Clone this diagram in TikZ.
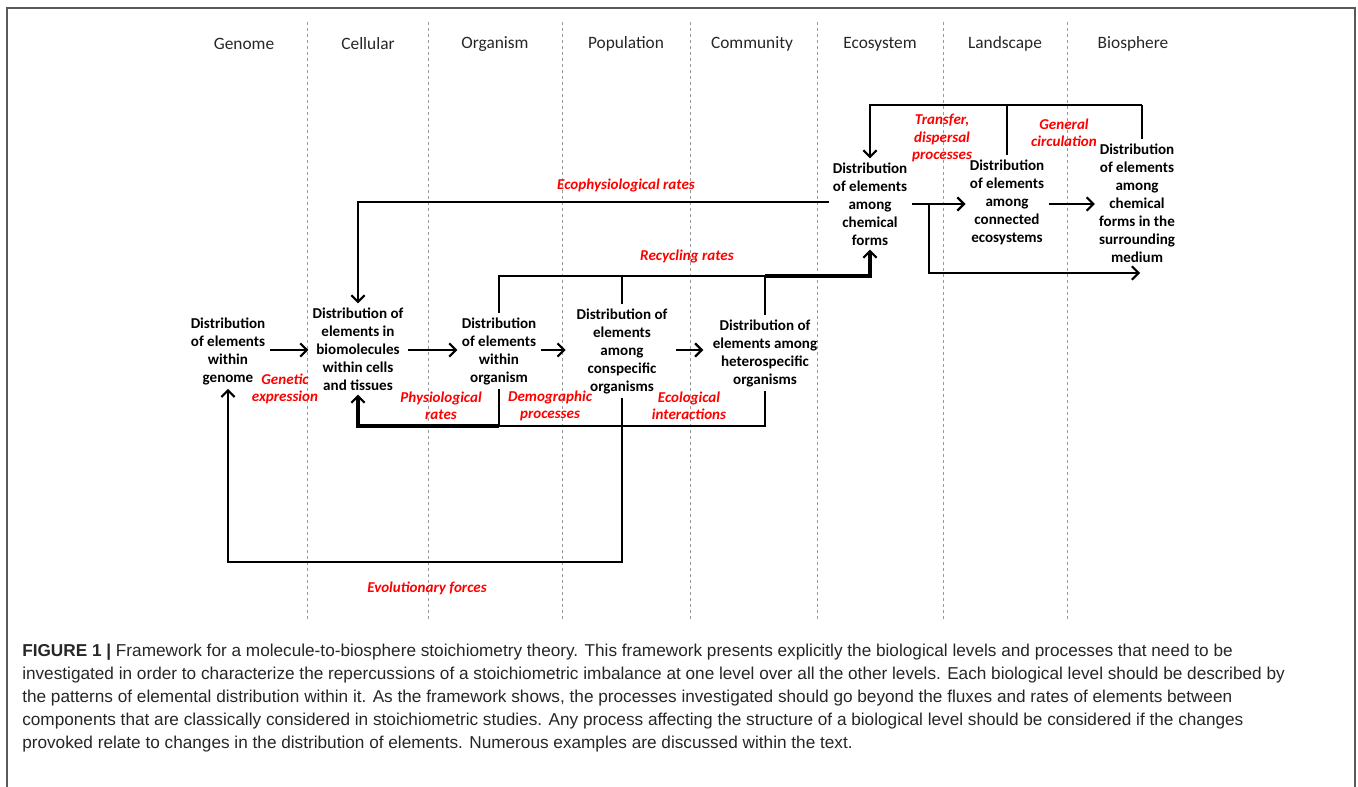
\documentclass[tikz,border=0pt]{standalone}
\usepackage{fontspec}
\setmainfont{Carlito}
\newfontfamily\capfont{Liberation Sans}
\usetikzlibrary{arrows.meta}
\begin{document}
\begin{tikzpicture}[x=0.75pt,y=-0.75pt,
  box/.style={align=center,font=\fontsize{11.3}{13.5}\selectfont\bfseries,inner sep=3pt,text=black},
  lab/.style={align=center,text=red,font=\fontsize{11.3}{13}\selectfont\bfseries\itshape,inner sep=0pt},
  hdr/.style={font=\fontsize{13}{15}\selectfont,inner sep=0pt,text=black!85},
  conn/.style={line width=1.6pt,black},
  thickconn/.style={line width=2.3pt},
  arr/.style={conn,-{Straight Barb[length=5pt,width=10pt,line width=1.6pt]}},
  sep/.style={black!40,line width=0.6pt,dash pattern=on 2.5pt off 2pt},
  capline/.style={anchor=base west,inner sep=0pt,font=\capfont\fontsize{12.9}{15}\selectfont,text=black!85}
]
\useasboundingbox (0,0) rectangle (1358,787);
% frame
\draw[black!65,line width=1.5pt] (7,787) -- (7,8) -- (1355,8) -- (1355,787);
% separators
\foreach \x in {307,428,562,690,817,943,1067} \draw[sep] (\x,22) -- (\x,620);
% headers
\node[hdr] (hGen) at (244,44) {Genome};
\node[hdr] (hCel) at (368,44) {Cellular};
\node[hdr] (hOrg) at (495,44) {Organism};
\node[hdr] (hPop) at (626,44) {Population};
\node[hdr] (hCom) at (752,44) {Community};
\node[hdr] (hEco) at (880,44) {Ecosystem};
\node[hdr] (hLan) at (1005,44) {Landscape};
\node[hdr] (hBio) at (1133,44) {Biosphere};
% nodes
\node[box] (n1) at (228,351) {Distribution\\of elements\\within\\genome};
\node[box] (n2) at (358,349) {Distribution of\\elements in\\biomolecules\\within cells\\and tissues};
\node[box] (n3) at (499,351) {Distribution\\of elements\\within\\organism};
\node[box] (n4) at (622,351) {Distribution of\\elements\\among\\conspecific\\organisms};
\node[box] (n5) at (765,353) {Distribution of\\elements among\\heterospecific\\organisms};
\node[box] (n6) at (870,204) {Distribution\\of elements\\among\\chemical\\forms};
\node[box] (n7) at (1007,202) {Distribution\\of elements\\among\\connected\\ecosystems};
\node[box] (n8) at (1137,203) {Distribution\\of elements\\among\\chemical\\forms in the\\surrounding\\medium};
% coordinates
\coordinate (ecoY) at (0,202);
\coordinate (recY) at (0,276);
\coordinate (botY) at (0,426);
\coordinate (evoY) at (0,562);
\coordinate (topY) at (0,105);
\coordinate (midY) at (0,350);
\coordinate (hiY) at (0,204);
\coordinate (br) at (929,204);
\coordinate (med) at (1140,273);
% horizontal chain
\draw[arr] (n1.east|-midY) -- (n2.west|-midY);
\draw[arr] (n2.east|-midY) -- (n3.west|-midY);
\draw[arr,shorten >=5pt] (n3.east|-midY) -- (n4.west|-midY);
\draw[arr,shorten >=4pt,shorten <=3pt] (n4.east|-midY) -- (n5.west|-midY);
\draw[arr] (n6.east|-hiY) -- (n7.west|-hiY);
\draw[arr] (n7.east|-hiY) -- (n8.west|-hiY);
\draw[arr] (br) |- (med);
% ecophysiological
\draw[arr] (n6.west|-ecoY) -| (n2.north);
% recycling
\draw[conn] (n3.north) -- (n3.north|-recY) -- (n5.north|-recY);
\draw[conn] (n4.north) -- (n4.north|-recY);
\draw[conn] (n5.north) -- (n5.north|-recY);
\draw[arr,thickconn] (n5.north|-recY) -| (n6.south);
% bottom bracket
\draw[conn] (n3.south) -- (n3.south|-botY) -- (n5.south|-botY) -- (n5.south);
\draw[conn] (n4.south) -- (n4.south|-botY);
\draw[arr,thickconn] (n3.south|-botY) -| (n2.south);
% evolutionary
\draw[arr] (n4.south) -- (n4.south|-evoY) -| (n1.south);
% top bracket
\draw[conn] (n7.north) -- (n7.north|-topY);
\draw[conn] ([xshift=4pt]n8.north) -- ([xshift=4pt]n8.north|-topY);
\draw[arr] ([xshift=4pt]n8.north|-topY) -| (n6.north);
% red labels
\node[lab] (lGen) at (285,389) {Genetic\\expression};
\node[lab] (lPhy) at (441,406) {Physiological\\rates};
\node[lab] (lDem) at (550,406) {Demographic\\processes};
\node[lab] (lEcoI) at (689,406) {Ecological\\interactions};
\node[lab] (lTra) at (942,138) {Transfer,\\dispersal\\processes};
\node[lab] (lGenC) at (1064,133) {General\\circulation};
\node[lab] (lEcoR) at (626,185) {Ecophysiological rates};
\node[lab] (lRec) at (687,256) {Recycling rates};
\node[lab] (lEvo) at (427,588) {Evolutionary forces};
% caption
\node[capline] (c1) at (22,656) {\textbf{FIGURE 1 |} Framework for a molecule-to-biosphere stoichiometry theory. This framework presents explicitly the biological levels and processes that need to be};
\node[capline] (c2) at (22,679) {investigated in order to characterize the repercussions of a stoichiometric imbalance at one level over all the other levels. Each biological level should be described by};
\node[capline] (c3) at (22,702) {the patterns of elemental distribution within it. As the framework shows, the processes investigated should go beyond the fluxes and rates of elements between};
\node[capline] (c4) at (22,725) {components that are classically considered in stoichiometric studies. Any process affecting the structure of a biological level should be considered if the changes};
\node[capline] (c5) at (22,748) {provoked relate to changes in the distribution of elements. Numerous examples are discussed within the text.};
\end{tikzpicture}
\end{document}
